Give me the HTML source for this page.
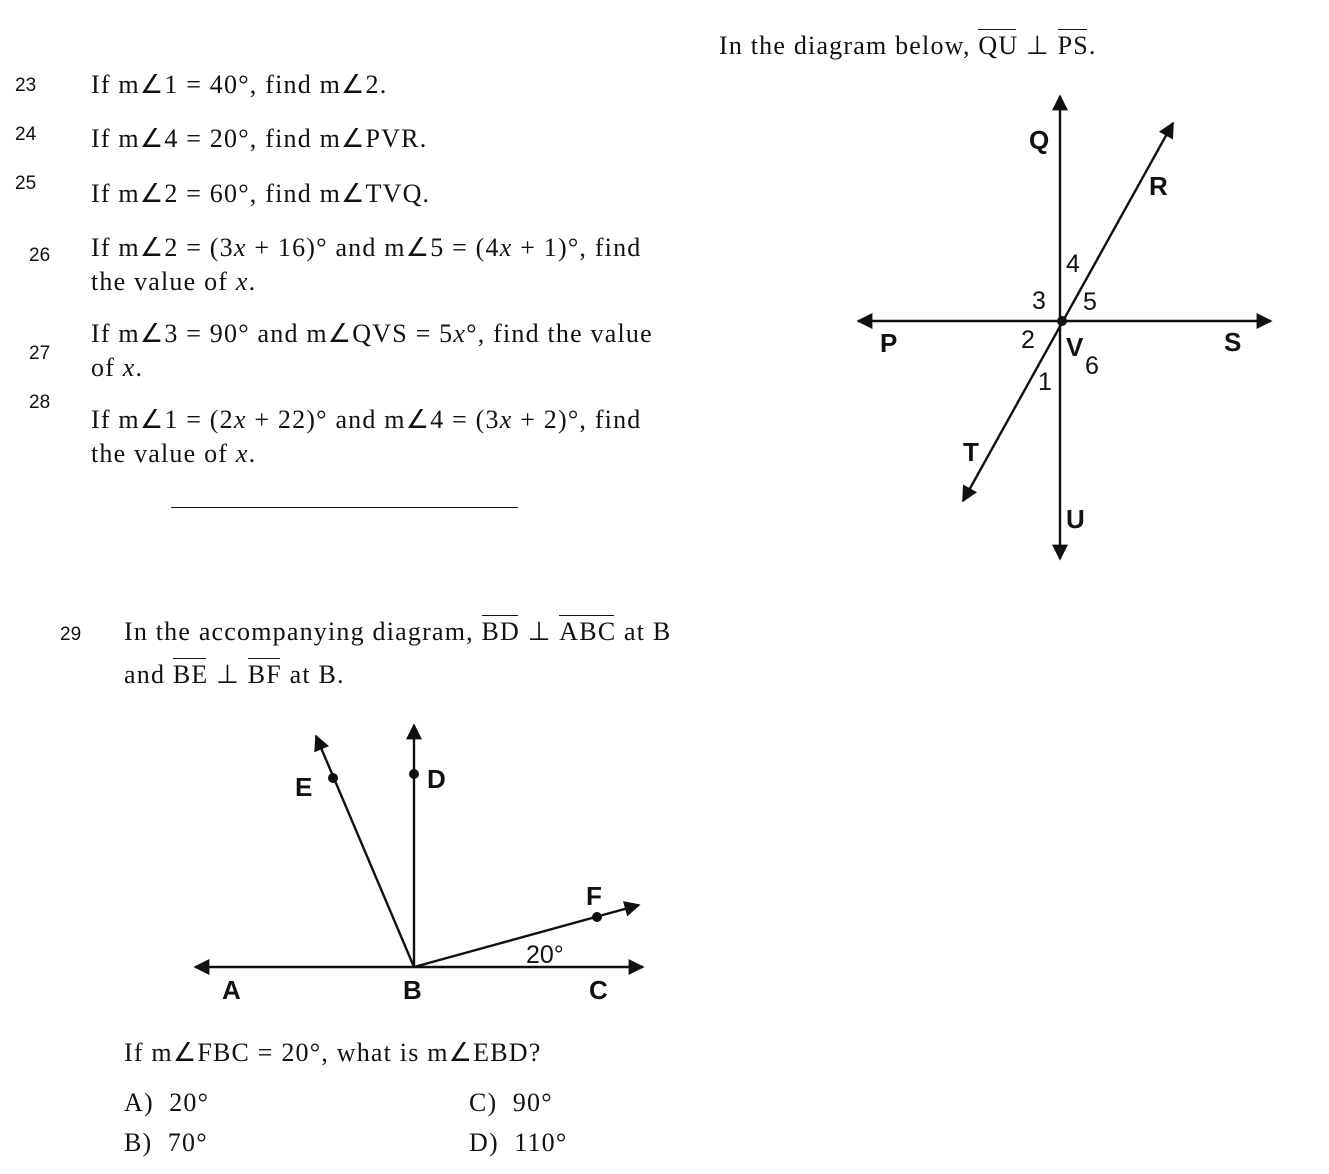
<!DOCTYPE html>
<html><head><style>
body{margin:0;width:1329px;height:1174px;background:#fff;position:relative;overflow:hidden}
.t{position:absolute;font-family:"Liberation Serif",serif;font-size:26px;color:#111;white-space:nowrap;line-height:1;letter-spacing:1.2px}
.n{position:absolute;font-family:"Liberation Sans",sans-serif;font-size:19px;color:#111;line-height:1}
.ov{position:relative;display:inline-block}
.ov::before{content:"";position:absolute;left:0;right:2px;top:-4px;border-top:1.5px solid #111}
</style></head><body>
<div class="t" style="left:719px;top:33px">In the diagram below, <span class="ov">QU</span> ⊥ <span class="ov">PS</span>.</div>
<div class="n" style="left:15px;top:76px">23</div>
<div class="t" style="left:91px;top:72px">If m∠1 = 40°, find m∠2.</div>
<div class="n" style="left:15px;top:125px">24</div>
<div class="t" style="left:91px;top:126px">If m∠4 = 20°, find m∠PVR.</div>
<div class="n" style="left:15px;top:174px">25</div>
<div class="t" style="left:91px;top:181px">If m∠2 = 60°, find m∠TVQ.</div>
<div class="n" style="left:29px;top:246px">26</div>
<div class="t" style="left:91px;top:235px">If m∠2 = (3<i>x</i> + 16)° and m∠5 = (4<i>x</i> + 1)°, find</div>
<div class="t" style="left:91px;top:269px">the value of <i>x</i>.</div>
<div class="n" style="left:29px;top:344px">27</div>
<div class="t" style="left:91px;top:321px">If m∠3 = 90° and m∠QVS = 5<i>x</i>°, find the value</div>
<div class="t" style="left:91px;top:355px">of <i>x</i>.</div>
<div class="n" style="left:29px;top:393px">28</div>
<div class="t" style="left:91px;top:407px">If m∠1 = (2<i>x</i> + 22)° and m∠4 = (3<i>x</i> + 2)°, find</div>
<div class="t" style="left:91px;top:441px">the value of <i>x</i>.</div>
<div style="position:absolute;left:171px;top:507px;width:347px;border-top:1.5px solid #111"></div>
<div class="n" style="left:60px;top:625px">29</div>
<div class="t" style="left:124px;top:619px">In the accompanying diagram, <span class="ov">BD</span> ⊥ <span class="ov">ABC</span> at B</div>
<div class="t" style="left:124px;top:662px">and <span class="ov">BE</span> ⊥ <span class="ov">BF</span> at B.</div>
<div class="t" style="left:124px;top:1040px">If m∠FBC = 20°, what is m∠EBD?</div>
<div class="t" style="left:124px;top:1090px">A)&nbsp; 20°</div>
<div class="t" style="left:124px;top:1130px">B)&nbsp; 70°</div>
<div class="t" style="left:469px;top:1090px">C)&nbsp; 90°</div>
<div class="t" style="left:469px;top:1130px">D)&nbsp; 110°</div>
<svg width="1329" height="1174" style="position:absolute;left:0;top:0" font-family="Liberation Sans,sans-serif">
<defs><marker id="b" viewBox="0 0 10 10" refX="9" refY="5" markerWidth="20" markerHeight="16" orient="auto-start-reverse" markerUnits="userSpaceOnUse"><path d="M0,0L10,5L0,10z" fill="#111"/></marker></defs>
<g stroke="#111" stroke-width="2.4" fill="none">
<line x1="1060" y1="96" x2="1060" y2="559" marker-start="url(#b)" marker-end="url(#b)"/>
<line x1="858" y1="321" x2="1271" y2="321" marker-start="url(#b)" marker-end="url(#b)"/>
<line x1="963" y1="501" x2="1173" y2="123" marker-start="url(#b)" marker-end="url(#b)"/>
<line x1="195" y1="967" x2="643" y2="967" marker-start="url(#b)" marker-end="url(#b)"/>
<line x1="414" y1="967" x2="414" y2="725" marker-end="url(#b)"/>
<line x1="414" y1="967" x2="316" y2="736" marker-end="url(#b)"/>
<line x1="414" y1="967" x2="639" y2="905" marker-end="url(#b)"/>
</g>
<g fill="#111"><circle cx="1062" cy="321" r="5"/><circle cx="414" cy="774" r="5"/><circle cx="333" cy="778" r="5"/><circle cx="597" cy="917" r="5"/></g>
<g font-size="26" font-weight="bold" fill="#111">
<text x="1029" y="149">Q</text><text x="1149" y="195">R</text><text x="880" y="352">P</text><text x="1224" y="351">S</text>
<text x="1066" y="356">V</text><text x="963" y="461">T</text><text x="1066" y="528">U</text>
<text x="295" y="796">E</text><text x="427" y="788">D</text><text x="586" y="905">F</text>
<text x="222" y="999">A</text><text x="403" y="999">B</text><text x="589" y="999">C</text>
</g>
<g font-size="25" fill="#111">
<text x="1066" y="272">4</text><text x="1032" y="309">3</text><text x="1083" y="310">5</text>
<text x="1021" y="348">2</text><text x="1085" y="374">6</text><text x="1038" y="390">1</text>
<text x="526" y="963">20°</text>
</g>
</svg>
</body></html>
